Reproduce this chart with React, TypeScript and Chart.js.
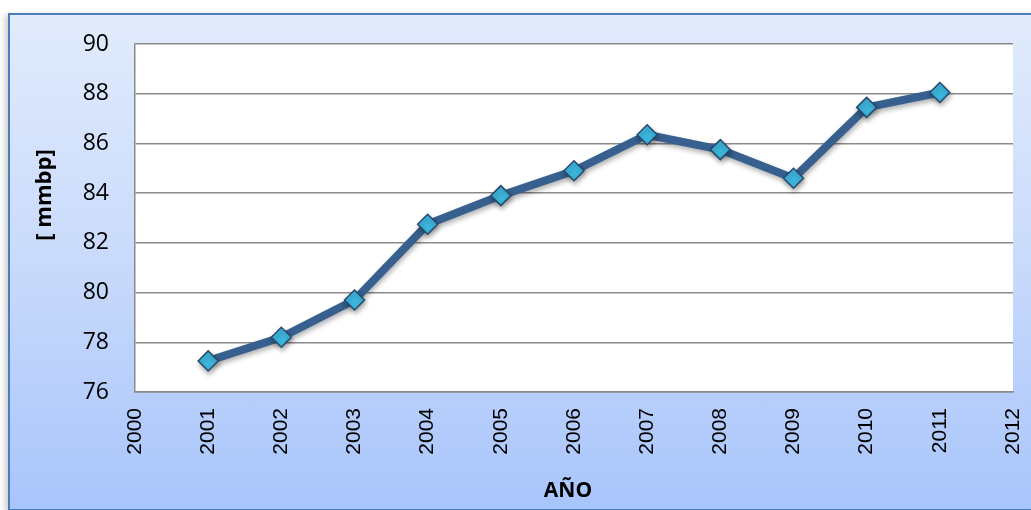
import React, { useEffect, useRef } from "react";
import { Chart, registerables } from "chart.js";

Chart.register(...registerables);

const years = [2001, 2002, 2003, 2004, 2005, 2006, 2007, 2008, 2009, 2010, 2011];
const values = [77.25, 78.2, 79.7, 82.75, 83.9, 84.9, 86.35, 85.75, 84.6, 87.45, 88.05];
const xMin = 2000;
const xMax = 2012;
const yMin = 76;
const yMax = 90;
const yStep = 2;
const yTitle = "[ mmbp]";
const xTitle = "AÑO";

export default function App() {
  const ref = useRef<HTMLCanvasElement | null>(null);

  useEffect(() => {
    if (!ref.current) return;
    const plotBg = {
      id: "plotBg",
      beforeDraw(chart: any) {
        const { ctx, chartArea } = chart;
        ctx.save();
        ctx.fillStyle = "#ffffff";
        ctx.fillRect(chartArea.left, chartArea.top, chartArea.right - chartArea.left, chartArea.bottom - chartArea.top);
        ctx.restore();
      },
      beforeDatasetsDraw(chart: any) {
        const ctx = chart.ctx;
        ctx.save();
        ctx.shadowColor = "rgba(0,0,0,0.3)";
        ctx.shadowBlur = 5;
        ctx.shadowOffsetX = 1;
        ctx.shadowOffsetY = 3;
      },
      afterDatasetsDraw(chart: any) {
        chart.ctx.restore();
      },
      afterDraw(chart: any) {
        const ctx = chart.ctx;
        ctx.save();
        ctx.fillStyle = "#000000";
        ctx.font = "bold 22px 'Open Sans'";
        ctx.textAlign = "center";
        ctx.textBaseline = "middle";
        ctx.translate(45, 195);
        ctx.rotate(-Math.PI / 2);
        ctx.fillText(yTitle, 0, 0);
        ctx.restore();
        ctx.save();
        ctx.fillStyle = "#000000";
        ctx.font = "bold 21px 'Open Sans'";
        ctx.textAlign = "center";
        ctx.textBaseline = "middle";
        ctx.fillText(xTitle, 568, 491);
        ctx.restore();
      },
    };

    const chart = new Chart(ref.current, {
      type: "line",
      data: {
        datasets: [
          {
            data: years.map((y, i) => ({ x: y, y: values[i] })),
            borderColor: "#37608F",
            borderWidth: 8,
            pointStyle: "rectRot",
            pointRadius: 10,
            pointBackgroundColor: "#3DB6DD",
            pointBorderColor: "#27496E",
            pointBorderWidth: 1.5,
            tension: 0,
          },
        ],
      },
      options: {
        animation: false,
        responsive: false,
        maintainAspectRatio: false,
        layout: { padding: { left: 0, top: 44, right: 18, bottom: 0 } },
        plugins: { legend: { display: false }, tooltip: { enabled: false } },
        scales: {
          x: {
            type: "linear",
            min: xMin,
            max: xMax,
            ticks: {
              stepSize: 1,
              minRotation: 90,
              maxRotation: 90,
              padding: 16,
              color: "#000000",
              font: { family: "'Liberation Sans'", size: 21 },
              callback: (v: any) => String(v),
            },
            grid: { display: false, drawTicks: false },
            border: { display: true, color: "#8A8A8A", width: 1.5 },
            afterFit: (s: any) => {
              s.height = 118;
              s.paddingLeft = 0;
              s.paddingRight = 0;
            },
          },
          y: {
            min: yMin,
            max: yMax,
            ticks: {
              stepSize: yStep,
              padding: 26,
              color: "#000000",
              font: { family: "'Open Sans'", size: 23 },
            },
            grid: { color: "#8A8A8A", lineWidth: 1.5, drawTicks: false },
            border: { display: true, color: "#8A8A8A", width: 1.5 },
            afterFit: (s: any) => {
              s.width = 135;
              s.paddingTop = 0;
              s.paddingBottom = 0;
            },
          },
        },
      },
      plugins: [plotBg],
    } as any);
    return () => chart.destroy();
  }, []);

  return (
    <div style={{ position: "fixed", left: 0, top: 0, width: 1031, height: 510, overflow: "hidden", background: "#ffffff" }}>
      <div
        style={{
          position: "absolute",
          left: 8,
          top: 13,
          width: 1040,
          height: 494,
          border: "2px solid #4A7EBB",
          background: "linear-gradient(to bottom, #E1EBFC 0%, #C9DAFB 50%, #A8C5FB 100%)",
          boxShadow: "-3px 2px 6px rgba(0,0,0,0.2)",
        }}
      />
      <canvas ref={ref} width={1031} height={510} style={{ position: "absolute", left: 0, top: 0 }} />
    </div>
  );
}
